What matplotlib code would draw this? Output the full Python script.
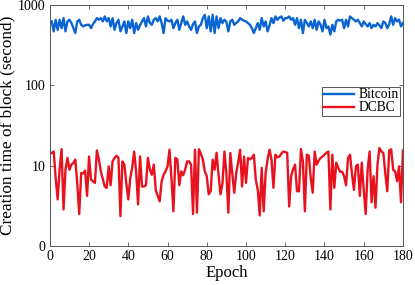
import numpy as np
import matplotlib
matplotlib.use("Agg")
import matplotlib.pyplot as plt

# values, one per epoch (1..180)
bitcoin = [627, 471, 657, 493, 657, 517, 689, 471, 627, 657, 600, 517, 449, 627, 657, 569, 543, 560, 569, 569,
           517, 580, 627, 689, 657, 689, 627, 723, 627, 689, 543, 689, 493, 597, 657, 471, 540, 627, 449, 627,
           517, 657, 449, 597, 493, 560, 627, 689, 543, 723, 600, 569, 657, 689, 627, 723, 600, 449, 689, 640,
           627, 657, 517, 597, 657, 493, 597, 723, 569, 627, 543, 493, 580, 627, 449, 543, 569, 689, 758, 517,
           723, 471, 758, 449, 723, 517, 689, 597, 657, 620, 471, 627, 657, 569, 597, 627, 689, 657, 640, 627,
           597, 569, 517, 449, 520, 597, 493, 689, 543, 627, 471, 560, 689, 597, 723, 657, 700, 723, 640, 690,
           689, 723, 657, 689, 569, 689, 517, 657, 449, 657, 600, 543, 627, 517, 657, 493, 627, 569, 471, 657,
           517, 543, 430, 569, 471, 627, 657, 640, 657, 517, 657, 543, 723, 690, 657, 627, 657, 600, 543, 627,
           580, 543, 597, 517, 569, 543, 597, 560, 517, 627, 600, 517, 580, 723, 569, 689, 627, 660, 543, 600]

dcbc = [14.4, 15, 7, 3.8, 9, 16.1, 2.85, 9, 12.5, 8.9, 10.3, 10.8, 11.9, 6, 2.5, 8.1, 8.0, 8.7, 4.2, 13,
        6.7, 6.4, 6.1, 15.5, 12, 8.5, 6.8, 5.5, 5.3, 9.8, 5.7, 11.3, 12.5, 13.3, 12.5, 2.35, 11.3, 10.3, 6, 3.8,
        7, 9.5, 15, 8.4, 3.3, 13, 5.5, 5.5, 5.7, 12.5, 9, 7.7, 10.3, 5, 4.2, 3.6, 6.4, 7.7, 8.5, 9.8,
        15.8, 7, 2.7, 12.5, 12, 5.7, 8.5, 7.6, 9, 11.3, 11.3, 10.3, 2.5, 15.8, 2.6, 16, 14, 12, 8.5, 7.4,
        4.4, 4.8, 11.9, 8.9, 14.5, 7.7, 4.4, 6, 15, 8, 2.6, 14.4, 8, 4.6, 8, 11, 15.8, 5.5, 13, 6.1,
        12.5, 12, 12.5, 13.7, 6.7, 5, 2.4, 9.4, 2.7, 8.1, 12, 15.8, 11.9, 5.3, 13.7, 12.7, 13, 14.1, 15, 14.8,
        14.5, 3.1, 7.4, 9, 10.3, 4.8, 4.8, 16.1, 11.3, 2.7, 13.7, 13.3, 7, 4.6, 15, 10.3, 11.5, 12.5, 13, 13.7,
        14.5, 15, 2.85, 13.7, 5.3, 10.9, 9.4, 8.4, 8.4, 7.4, 5.7, 12.5, 13.7, 8, 5, 9.8, 10.3, 4.2, 10.9, 5,
        2.5, 9, 15, 3.5, 7.4, 3.0, 10.3, 16.6, 15, 14.4, 8, 4.8, 15.5, 16, 8.9, 8.5, 6.4, 9.8, 3.5, 15.5]

epochs = np.arange(1, len(dcbc) + 1)
x_ticks = [0, 20, 40, 60, 80, 100, 120, 140, 160, 180]
y_ticks = [1, 10, 100, 1000]
y_labels = ["0", "10", "100", "1000"]

plt.rcParams['font.family'] = ['Liberation Serif', 'DejaVu Serif']

fig = plt.figure(figsize=(4.15, 2.85), dpi=100)
ax = fig.add_axes([0.120, 0.137, 0.851, 0.845])

ax.plot(epochs, bitcoin, color="#0a64d2", lw=1.7, label="Bitcoin")
ax.plot(epochs, dcbc, color="#e8121e", lw=1.7, label="DCBC")

ax.set_yscale("log")
ax.set_xlim(0, 180)
ax.set_ylim(1, 1000)
ax.set_xticks(x_ticks)
ax.set_yticks(y_ticks)
ax.set_yticklabels(y_labels)
ax.minorticks_off()
ax.tick_params(direction="in", length=3, width=0.6, top=True, right=True,
               labelsize=10, color="#555555", pad=3)
for s in ax.spines.values():
    s.set_color("#555555")
    s.set_linewidth(0.7)

ax.set_xlabel("Epoch", fontsize=12, labelpad=1)
ax.set_ylabel("Creation time of block (second)", fontsize=12.4, labelpad=2)

leg = ax.legend(loc="upper right", bbox_to_anchor=(0.992, 0.66), fontsize=9.8,
                fancybox=False, framealpha=1, edgecolor="#555555",
                handlelength=2.3, borderpad=0.1, labelspacing=0.0, handletextpad=0.3,
                borderaxespad=0)
leg.get_frame().set_linewidth(0.7)

fig.savefig("out.png", dpi=100)
